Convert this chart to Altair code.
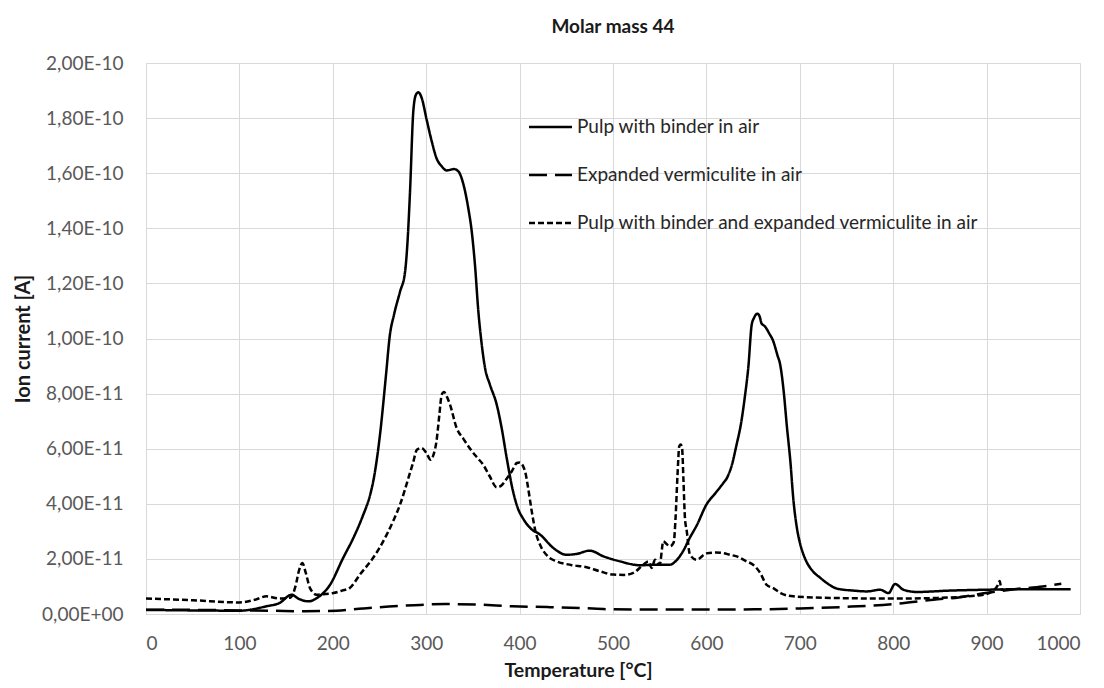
import altair as alt
import pandas as pd

series_names = [
    "Pulp with binder in air",
    "Expanded vermiculite in air",
    "Pulp with binder and expanded vermiculite in air",
]

# Pulp with binder in air (values in 1e-11 A)
pulp_T = [0, 50, 100, 129, 143, 156, 163, 174, 183, 197, 211, 222, 232, 240, 244, 250.5, 257, 261, 265.5, 272,
          277.3, 279.8, 282.7, 286.2, 289, 291.6, 295.2, 300.5, 305.9, 311, 316.6, 321.9, 329.8, 334.4, 339.8, 345,
          348.7, 352.2, 355.8, 359.4, 363, 368.3, 375.5, 380.8, 386, 393, 398, 404, 412, 422, 436, 450, 461, 475,
          490, 507.5, 529, 547, 561, 568, 575, 582, 590, 600, 610, 618, 622, 628, 632, 637, 641, 645, 648.5, 651,
          654.5, 657, 659, 662.7, 667, 671.6, 676, 679, 683, 686, 690, 693, 697, 700, 704, 707, 714, 722, 730, 740,
          757, 772, 786, 795, 802, 811, 825, 861, 897, 946, 990]
pulp_V = [0.15, 0.13, 0.12, 0.28, 0.40, 0.70, 0.56, 0.46, 0.58, 1.06, 2.03, 2.76, 3.55, 4.33, 4.94, 6.5, 8.69, 10.1,
          10.86, 11.7, 12.4, 13.4, 15.35, 18.25, 18.85, 18.94, 18.73, 17.94, 17.16, 16.55, 16.25, 16.1, 16.15, 16.07,
          15.6, 14.74, 13.9, 12.68, 11.0, 9.8, 8.93, 8.32, 7.6, 6.75, 5.7, 4.45, 3.85, 3.45, 3.1, 2.88, 2.4, 2.15,
          2.18, 2.3, 2.09, 1.91, 1.77, 1.79, 1.79, 1.95, 2.28, 2.75, 3.24, 3.97, 4.4, 4.75, 4.94, 5.5, 6.1, 6.9,
          7.84, 9.0, 10.5, 10.75, 10.9, 10.8, 10.55, 10.44, 10.2, 9.9, 9.4, 9.05, 8.0, 6.87, 5.5, 4.2, 3.1, 2.6,
          2.15, 1.91, 1.55, 1.31, 1.1, 0.92, 0.85, 0.82, 0.88, 0.76, 1.09, 0.88, 0.8, 0.85, 0.88, 0.9, 0.9]

# Expanded vermiculite in air
verm_T = [0, 50, 100, 133, 170, 204, 232, 260, 287, 320, 356, 392, 430, 464, 500, 550, 600, 658, 700, 750, 800,
          843, 870, 897, 930, 960, 980]
verm_V = [0.15, 0.15, 0.13, 0.12, 0.10, 0.12, 0.20, 0.27, 0.32, 0.36, 0.34, 0.28, 0.25, 0.22, 0.17, 0.16, 0.16,
          0.17, 0.20, 0.26, 0.36, 0.52, 0.60, 0.75, 0.90, 1.0, 1.1]

# Pulp with binder and expanded vermiculite in air
mix_T = [0, 50, 100, 115, 129, 143, 155, 160, 164, 167.4, 171, 175.6, 182.7, 190, 200.5, 210, 218, 229, 243, 250,
         257.7, 265, 272, 281, 286, 290, 295, 300, 304.8, 308, 311, 314, 316.6, 319, 322, 325.5, 332.6, 340, 347,
         354, 361, 368, 375.5, 380, 386, 392, 397, 400, 405.8, 409, 413, 417, 421.8, 430, 439.7, 455, 471.8, 486,
         500.3, 512, 521.8, 532.5, 537.8, 541.4, 545, 550, 553.9, 557, 561, 565, 567, 569, 571, 572.5, 574, 575.5,
         577, 579, 582.4, 589.6, 600, 610, 618, 625, 632.4, 643, 650, 657.4, 664.5, 671.6, 680, 693, 736, 807, 843,
         880, 896.5, 905, 912, 914, 916, 918]
mix_V = [0.56, 0.50, 0.42, 0.50, 0.64, 0.56, 0.60, 1.0, 1.6, 1.85, 1.5, 0.94, 0.70, 0.72, 0.76, 0.85, 0.94, 1.43,
         2.03, 2.4, 2.88, 3.4, 3.97, 4.94, 5.5, 5.96, 6.03, 5.85, 5.6, 5.8, 6.27, 7.2, 7.96, 8.06, 7.9, 7.6, 6.75,
         6.35, 6.0, 5.7, 5.42, 5.0, 4.6, 4.65, 4.9, 5.2, 5.48, 5.5, 5.18, 4.6, 3.73, 3.0, 2.52, 2.1, 1.91, 1.78,
         1.7, 1.55, 1.43, 1.42, 1.49, 1.79, 1.91, 1.67, 1.97, 1.79, 2.64, 2.55, 2.46, 2.6, 3.5, 5.0, 6.1, 6.15, 6.0,
         4.8, 3.5, 3.0, 2.15, 1.97, 2.2, 2.23, 2.21, 2.15, 2.09, 1.91, 1.79, 1.5, 1.06, 0.94, 0.75, 0.64, 0.58,
         0.56, 0.58, 0.64, 0.70, 0.80, 1.05, 1.2, 0.88, 0.9]

x_ticks = [0, 100, 200, 300, 400, 500, 600, 700, 800, 900, 1000]
y_ticks = [0, 2e-11, 4e-11, 6e-11, 8e-11, 1e-10, 1.2e-10, 1.4e-10, 1.6e-10, 1.8e-10, 2e-10]

rows = []
for name, ts, vs in zip(series_names, [pulp_T, verm_T, mix_T], [pulp_V, verm_V, mix_V]):
    for t, v in zip(ts, vs):
        rows.append({"T": t, "V": v * 1e-11, "series": name})
df = pd.DataFrame(rows)

FONT = "Lato"
label_expr = ("datum.value == 0 ? '0,00E+00' : "
              "replace(replace(replace(format(datum.value, '.2e'), '.', ','), 'e', 'E'), '\u2212', '-')")

chart = alt.Chart(df).mark_line(strokeWidth=2.5, color="black", interpolate="monotone").encode(
    x=alt.X("T:Q", scale=alt.Scale(domain=[0, 1000], nice=False),
            axis=alt.Axis(values=x_ticks, format="d", title="Temperature [°C]", titleX=432, titleY=62,
                          titleBaseline="alphabetic", titleAlign="center", labelBaseline="alphabetic",
                          labelPadding=35, titleFontSize=19.5)),
    y=alt.Y("V:Q", scale=alt.Scale(domain=[0, 2e-10], nice=False),
            axis=alt.Axis(values=y_ticks, labelExpr=label_expr, title="Ion current [A]", titleX=-123,
                          titleY=275.5, titleAngle=270, titleAlign="center", titleBaseline="middle",
                          labelPadding=23)),
    strokeDash=alt.StrokeDash("series:N",
                              scale=alt.Scale(domain=series_names, range=[[1, 0], [18, 8], [6, 3]]),
                              legend=alt.Legend(orient="none", legendX=381.5, legendY=41, title=None,
                                                symbolType="stroke", symbolSize=1849, symbolStrokeWidth=2.5,
                                                symbolStrokeColor="black", labelFont=FONT, labelFontSize=19,
                                                labelColor="#262626", labelOffset=3.5, rowPadding=15,
                                                labelLimit=0, padding=0)),
).properties(
    width=934, height=551,
    title=alt.TitleParams("Molar mass 44", font=FONT, fontSize=19, fontWeight="bold", color="#1a1a1a",
                          anchor="middle", offset=17),
    padding={"left": 138, "top": 55, "right": 8, "bottom": 66},
    autosize=alt.AutoSizeParams(type="none"),
).configure_axis(
    grid=True, gridColor="#d9d9d9", gridWidth=1, domainColor="#d9d9d9", domainWidth=1,
    ticks=False, tickSize=0, labelFont=FONT, labelFontSize=19, labelColor="#595959",
    titleFont=FONT, titleFontSize=20, titleFontWeight="bold", titleColor="#1a1a1a",
).configure_view(strokeWidth=0)

chart.save("out.html", embed_options={"renderer": "svg", "actions": False})
